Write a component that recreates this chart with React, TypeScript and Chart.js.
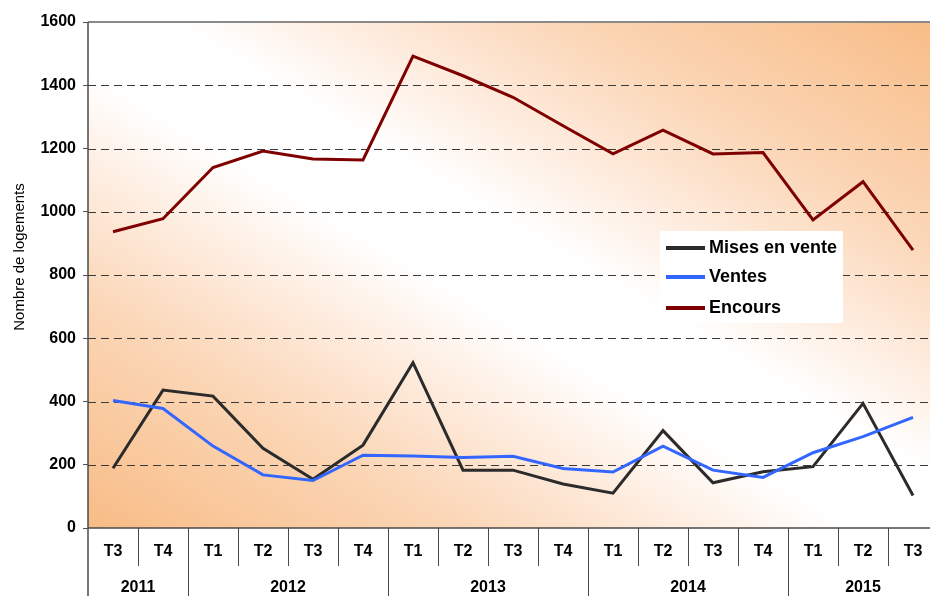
import React, { useEffect, useRef } from 'react';
import { Chart, registerables } from 'chart.js';

Chart.register(...registerables);

// ---- data ----
const quarters = ['T3', 'T4', 'T1', 'T2', 'T3', 'T4', 'T1', 'T2', 'T3', 'T4', 'T1', 'T2', 'T3', 'T4', 'T1', 'T2', 'T3'];
const years = ['2011', '2012', '2013', '2014', '2015'];
const yearSpans = [2, 4, 4, 4, 3];
const misesEnVente = [189, 436, 417, 252, 154, 262, 523, 183, 183, 139, 110, 308, 143, 178, 194, 394, 103];
const ventes = [403, 378, 259, 168, 150, 230, 228, 223, 227, 188, 177, 259, 183, 160, 238, 289, 350];
const encours = [937, 978, 1140, 1192, 1167, 1164, 1492, 1430, 1362, 1272, 1183, 1258, 1183, 1187, 974, 1095, 879];
const seriesNames = ['Mises en vente', 'Ventes', 'Encours'];
const seriesColors = ['#2b2b2b', '#3366ff', '#7f0000'];
const yMin = 0;
const yMax = 1600;
const yStep = 200;
const yTitle = 'Nombre de logements';

const FONT = '"Liberation Sans", Arial, sans-serif';

const categories: string[] = [];
{
  let q = 0;
  years.forEach((y, i) => {
    for (let k = 0; k < yearSpans[i]; k++) {
      categories.push(quarters[q] + ' ' + y);
      q++;
    }
  });
}

const decor = {
  id: 'decor',
  beforeDraw(chart: any) {
    const { ctx, chartArea: a } = chart;
    const W = a.right - a.left;
    const H = a.bottom - a.top;
    const cx = (a.left + a.right) / 2;
    const cy = (a.top + a.bottom) / 2;
    const L = Math.hypot(W, H);
    const nx = H / L;
    const ny = -W / L;
    const d = (W * H) / L;
    const g = ctx.createLinearGradient(cx - nx * d, cy - ny * d, cx + nx * d, cy + ny * d);
    g.addColorStop(0, 'rgb(248,188,134)');
    g.addColorStop(0.22, 'rgb(251,214,182)');
    g.addColorStop(0.36, 'rgb(254,238,226)');
    g.addColorStop(0.45, '#ffffff');
    g.addColorStop(0.55, '#ffffff');
    g.addColorStop(0.64, 'rgb(254,238,226)');
    g.addColorStop(0.78, 'rgb(251,214,182)');
    g.addColorStop(1, 'rgb(248,188,134)');
    ctx.save();
    ctx.fillStyle = g;
    ctx.fillRect(a.left, a.top, W, H);
    ctx.restore();
  },
  beforeDatasetsDraw(chart: any) {
    const { ctx, chartArea: a } = chart;
    const ys = chart.scales.y;
    ctx.save();
    ys.ticks.forEach((t: any) => {
      const v = t.value;
      if (v <= yMin) return;
      const y = Math.round(ys.getPixelForValue(v));
      ctx.beginPath();
      if (v >= yMax) {
        ctx.setLineDash([]);
        ctx.strokeStyle = '#8a8a8a';
        ctx.lineWidth = 2;
        ctx.moveTo(a.left, y);
        ctx.lineTo(a.right, y);
      } else {
        ctx.setLineDash([8, 5]);
        ctx.strokeStyle = '#3a3a3a';
        ctx.lineWidth = 1;
        ctx.moveTo(a.left, y + 0.5);
        ctx.lineTo(a.right, y + 0.5);
      }
      ctx.stroke();
    });
    ctx.restore();
  },
  afterDraw(chart: any) {
    const { ctx, chartArea: a } = chart;
    const xs = chart.scales.x;
    const H = chart.height;
    ctx.save();
    ctx.setLineDash([]);
    ctx.strokeStyle = '#4a4a4a';
    ctx.lineWidth = 1.5;
    ctx.beginPath();
    ctx.moveTo(a.left, a.bottom);
    ctx.lineTo(a.right, a.bottom);
    ctx.stroke();
    ctx.beginPath();
    ctx.moveTo(a.left, a.top);
    ctx.lineTo(a.left, H);
    ctx.stroke();

    const n = categories.length;
    const boundary = (i: number) => {
      if (i <= 0) return a.left;
      if (i >= n) return a.right;
      return (xs.getPixelForValue(i - 1) + xs.getPixelForValue(i)) / 2;
    };
    const yearStarts = new Set<number>();
    let acc = 0;
    yearSpans.forEach((s) => {
      yearStarts.add(acc);
      acc += s;
    });
    ctx.lineWidth = 1;
    ctx.strokeStyle = '#4a4a4a';
    for (let i = 1; i < n; i++) {
      const x = Math.round(boundary(i)) + 0.5;
      ctx.beginPath();
      ctx.moveTo(x, a.bottom);
      ctx.lineTo(x, yearStarts.has(i) ? H : a.bottom + 38);
      ctx.stroke();
    }
    ctx.fillStyle = '#000';
    ctx.font = `bold 16px ${FONT}`;
    ctx.textAlign = 'center';
    ctx.textBaseline = 'middle';
    quarters.forEach((q, i) => {
      ctx.fillText(q, xs.getPixelForValue(i), a.bottom + 24);
    });
    let start = 0;
    years.forEach((y, i) => {
      const x0 = boundary(start);
      const x1 = boundary(start + yearSpans[i]);
      ctx.fillText(y, (x0 + x1) / 2, a.bottom + 60);
      start += yearSpans[i];
    });
    ctx.save();
    ctx.translate(20, 257);
    ctx.rotate(-Math.PI / 2);
    ctx.font = `15px ${FONT}`;
    ctx.fillText(yTitle, 0, 0);
    ctx.restore();

    ctx.fillStyle = '#ffffff';
    ctx.fillRect(660, 231, 183, 92);
    const rows = [248, 277, 308];
    seriesNames.forEach((name, i) => {
      ctx.strokeStyle = seriesColors[i];
      ctx.lineWidth = 4;
      ctx.beginPath();
      ctx.moveTo(666, rows[i]);
      ctx.lineTo(705, rows[i]);
      ctx.stroke();
      ctx.fillStyle = '#000';
      ctx.font = `bold 18px ${FONT}`;
      ctx.textAlign = 'left';
      ctx.fillText(name, 709, rows[i]);
    });
    ctx.restore();
  },
};

export default function App() {
  const ref = useRef<HTMLCanvasElement | null>(null);
  useEffect(() => {
    if (!ref.current) return;
    const chart = new Chart(ref.current, {
      type: 'line',
      data: {
        labels: categories,
        datasets: [
          { label: seriesNames[0], data: misesEnVente, borderColor: seriesColors[0], borderWidth: 3, pointRadius: 0, tension: 0, order: 1 },
          { label: seriesNames[1], data: ventes, borderColor: seriesColors[1], borderWidth: 3, pointRadius: 0, tension: 0, order: 0 },
          { label: seriesNames[2], data: encours, borderColor: seriesColors[2], borderWidth: 3, pointRadius: 0, tension: 0, order: 2 },
        ],
      },
      options: {
        responsive: false,
        devicePixelRatio: 1,
        animation: false,
        layout: { padding: { top: 22, left: 0, right: 2, bottom: 0 } },
        plugins: { legend: { display: false }, tooltip: { enabled: false }, title: { display: false } },
        scales: {
          x: {
            offset: true,
            ticks: { display: false },
            grid: { display: false },
            border: { display: false },
            afterFit: (s: any) => { s.height = 68; },
          },
          y: {
            min: yMin,
            max: yMax,
            ticks: {
              stepSize: yStep,
              color: '#000',
              font: { family: FONT, size: 16, weight: 'bold' },
              padding: 7,
              callback: (v: any) => String(v),
            },
            grid: { display: true, drawOnChartArea: false, drawTicks: true, tickLength: 5, color: '#555', tickColor: '#555' },
            border: { display: false },
            afterFit: (s: any) => { s.width = 88; },
          },
        },
      },
      plugins: [decor],
    } as any);
    return () => chart.destroy();
  }, []);
  return (
    <div style={{ position: 'fixed', left: 0, top: 0, width: 930, height: 596, overflow: 'hidden', background: '#fff' }}>
      <canvas ref={ref} width={940} height={596} style={{ display: 'block', width: 940, height: 596 }} />
    </div>
  );
}
